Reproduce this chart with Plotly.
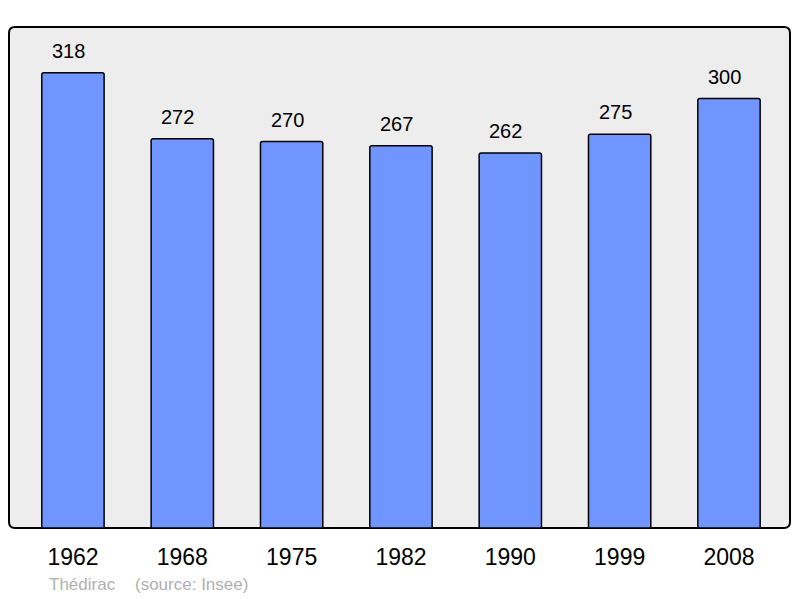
import plotly.graph_objects as go

years = ["1962", "1968", "1975", "1982", "1990", "1999", "2008"]
population = [318, 272, 270, 267, 262, 275, 300]
town = "Thédirac"
source = "(source: Insee)"

W, H = 800, 598
L, R, T, B = 9, 10, 27, 70
pw, ph = W - L - R, H - T - B

fig = go.Figure()
fig.add_trace(go.Bar(
    x=list(range(len(years))), y=population,
    width=0.57,
    marker=dict(color="#7095ff", line=dict(color="#000000", width=1.5), cornerradius=2),
    hoverinfo="skip",
))

for i, v in enumerate(population):
    fig.add_annotation(x=i, y=v, text=str(v), showarrow=False, yanchor="bottom",
                       yshift=9, xshift=-4.5, font=dict(size=20, color="#000000"))

# rounded plot frame
r = 6
rx, ry = r / pw, r / ph
path = (f"M {rx},0 L {1-rx},0 Q 1,0 1,{ry} L 1,{1-ry} Q 1,1 {1-rx},1 "
        f"L {rx},1 Q 0,1 0,{1-ry} L 0,{ry} Q 0,0 {rx},0 Z")
fig.add_shape(type="path", path=path, xref="paper", yref="paper",
              fillcolor="#ededed", line=dict(color="#000000", width=2), layer="below")

fig.update_layout(
    width=W, height=H,
    margin=dict(l=L, r=R, t=T, b=B),
    paper_bgcolor="#ffffff", plot_bgcolor="rgba(0,0,0,0)",
    font=dict(family="Liberation Sans, Arial, sans-serif"),
    showlegend=False,
    xaxis=dict(range=[-0.585, 6.558], tickmode="array", tickvals=list(range(len(years))),
               ticktext=years, showgrid=False, zeroline=False, showline=False,
               ticks="outside", ticklen=8, tickcolor="rgba(0,0,0,0)",
               tickfont=dict(size=23, color="#000000"), fixedrange=True),
    yaxis=dict(range=[0, 350], visible=False, fixedrange=True),
)

ys = -(584 - T - ph) / ph
fig.add_annotation(x=(49 - L) / pw, y=ys, xref="paper", yref="paper",
                   text=town, showarrow=False, xanchor="left", yanchor="middle",
                   xshift=-2, font=dict(size=17, color="#b0b0b0"))
fig.add_annotation(x=(135 - L) / pw, y=ys, xref="paper", yref="paper",
                   text=source, showarrow=False, xanchor="left", yanchor="middle",
                   xshift=-2, font=dict(size=17, color="#b0b0b0"))

fig.write_html("out.html", config={"displayModeBar": False},
               post_script="document.body.style.margin='0';document.body.style.padding='0';")
